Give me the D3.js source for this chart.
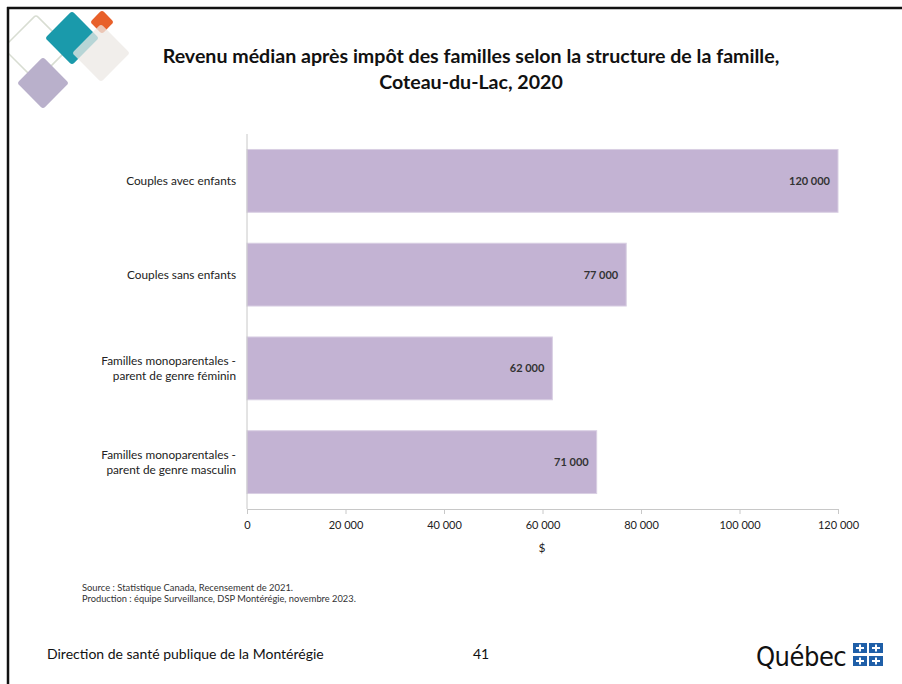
<!DOCTYPE html>
<html><head><meta charset="utf-8">
<script src="https://cdn.jsdelivr.net/npm/d3@7"></script>
<style>body{margin:0;background:#fff}svg{display:block}text{font-family:Lato,"Open Sans",sans-serif}</style>
</head><body><svg id="c" width="902" height="684"></svg>
<script>
const categories = ["Couples avec enfants","Couples sans enfants","Familles monoparentales -|parent de genre féminin","Familles monoparentales -|parent de genre masculin"];
const values = [120000,77000,62000,71000];
const valueLabels = ["120 000","77 000","62 000","71 000"];
const ticks = [0,20000,40000,60000,80000,100000,120000];
const tickLabels = ["0","20 000","40 000","60 000","80 000","100 000","120 000"];
const titleLines = ["Revenu médian après impôt des familles selon la structure de la famille,","Coteau-du-Lac, 2020"];

const svg = d3.select("#c");
svg.append("rect").attr("x",0).attr("y",0).attr("width",902).attr("height",684).attr("fill","#fff");
svg.append("defs").append("clipPath").attr("id","lc").append("rect").attr("x",9).attr("y",9).attr("width",200).attr("height",200);

// logo diamonds
const logo = svg.append("g").attr("clip-path","url(#lc)");
function diamond(cx,cy,h,fill,stroke,op){
  const s=h*Math.SQRT2;
  logo.append("rect").attr("x",-s/2).attr("y",-s/2).attr("width",s).attr("height",s).attr("rx",3)
   .attr("transform",`translate(${cx},${cy}) rotate(45)`).attr("fill",fill).attr("stroke",stroke||"none")
   .attr("stroke-width",1.5).attr("opacity",op||1);
}
diamond(36,48,33,"none","#d8ddd2");
diamond(43,83,26,"#b9b0cb");
diamond(72,38,27,"#1a9aab");
diamond(102,22,12,"#e8602a");
diamond(101,53,29,"#ece8e4",null,0.75);

// frame
svg.append("line").attr("x1",7).attr("x2",902).attr("y1",8).attr("y2",8).attr("stroke","#111").attr("stroke-width",2.5);
svg.append("line").attr("x1",8).attr("x2",8).attr("y1",7).attr("y2",684).attr("stroke","#111").attr("stroke-width",2.5);

// title
svg.append("g").selectAll("text").data(titleLines).join("text")
 .attr("x",471).attr("y",(d,i)=>63+i*26).attr("text-anchor","middle")
 .attr("font-size",19.6).attr("font-weight","bold").attr("fill","#111").text(d=>d);

const x = d3.scaleLinear().domain([0,120000]).range([247,838]);
const y = d3.scaleBand().domain(categories).range([134,509]).paddingInner(0.33).paddingOuter(0.165);

// bars
svg.append("g").selectAll("rect").data(values).join("rect")
 .attr("x",x(0)).attr("y",(d,i)=>y(categories[i])).attr("width",d=>x(d)-x(0)).attr("height",y.bandwidth())
 .attr("fill","#c3b3d3").attr("stroke","#d9cfe3").attr("stroke-width",1);

// value labels
svg.append("g").selectAll("text").data(values).join("text")
 .attr("x",d=>x(d)-8).attr("y",(d,i)=>y(categories[i])+y.bandwidth()/2+4).attr("text-anchor","end")
 .attr("font-size",11).attr("font-weight","bold").attr("fill","#333").text((d,i)=>valueLabels[i]);

// axes
const xa = svg.append("g").attr("transform","translate(0,509)")
 .call(d3.axisBottom(x).tickValues(ticks).tickSize(5).tickFormat((d,i)=>tickLabels[i]));
xa.select(".domain").attr("stroke","#c8c8c8");
xa.selectAll(".tick line").attr("stroke","#c8c8c8");
xa.selectAll(".tick text").attr("font-size",11).attr("fill","#222").attr("dy","1.1em").style("font-family","Lato,sans-serif");

const ya = svg.append("g").attr("transform","translate(247,0)").call(d3.axisLeft(y).tickSize(0).tickFormat(""));
ya.select(".domain").attr("stroke","#c8c8c8").attr("d","M0,134V509");

// category labels
const cl = svg.append("g").selectAll("text").data(categories).join("text")
 .attr("text-anchor","end").attr("font-size",11.8).attr("fill","#222");
cl.each(function(d){
  const lines=d.split("|"), t=d3.select(this), cy=y(d)+y.bandwidth()/2;
  lines.forEach((l,j)=>t.append("tspan").attr("x",236).attr("y",cy+4+(j-(lines.length-1)/2)*15).text(l));
});

svg.append("text").attr("x",542).attr("y",552).attr("text-anchor","middle").attr("font-size",12).attr("fill","#222").text("$");

// source
svg.append("text").attr("x",82).attr("y",591).attr("font-size",9.4).attr("fill","#333").text("Source : Statistique Canada,  Recensement de 2021.");
svg.append("text").attr("x",82).attr("y",602).attr("font-size",9.3).attr("fill","#333").text("Production : équipe Surveillance, DSP Montérégie, novembre 2023.");

// footer
svg.append("text").attr("x",47).attr("y",659).attr("font-size",14).attr("fill","#111").text("Direction de santé publique de la Montérégie");
svg.append("text").attr("x",473).attr("y",659).attr("font-size",14).attr("fill","#111").text("41");
svg.append("text").attr("x",756).attr("y",666).attr("font-size",27).attr("fill","#111").style("font-family","'Liberation Sans Narrow','DejaVu Sans Condensed',sans-serif").attr("letter-spacing",-0.5).text("Québec");
const fl = svg.append("g");
[[853,643],[869,643],[853,656],[869,656]].forEach(([fx,fy])=>{
  fl.append("rect").attr("x",fx).attr("y",fy).attr("width",14).attr("height",10).attr("fill","#1f5fa8");
  fl.append("rect").attr("x",fx+6).attr("y",fy+1.5).attr("width",2).attr("height",7).attr("fill","#fff");
  fl.append("rect").attr("x",fx+3).attr("y",fy+4).attr("width",8).attr("height",2).attr("fill","#fff");
});
</script></body></html>
